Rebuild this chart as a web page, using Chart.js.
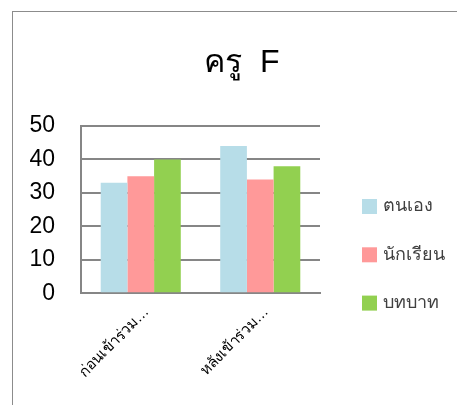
<!DOCTYPE html>
<html>
<head>
<meta charset="utf-8">
<script src="https://cdn.jsdelivr.net/npm/chart.js@4"></script>
<style>
  html, body { margin: 0; padding: 0; background: #fff; }
  #wrap { position: relative; width: 457px; height: 405px; overflow: hidden; }
  #frame { position: absolute; left: 12px; top: 11px; width: 500px; height: 460px; border: 1px solid #8c8c8c; box-sizing: border-box; }
  canvas { position: absolute; left: 0; top: 0; }
</style>
</head>
<body>
<div id="wrap">
  <div id="frame"></div>
  <canvas id="c" width="457" height="405"></canvas>
</div>
<script>
// Categories (x-axis) and the score of each group
const categories = ['ก่อนเข้าร่วม…', 'หลังเข้าร่วม…'];
const seriesNames = ['ตนเอง', 'นักเรียน', 'บทบาท'];
const selfScores = [33, 44];
const studentScores = [35, 34];
const roleScores = [40, 38];
const yTicks = [0, 10, 20, 30, 40, 50];
const chartTitle = 'ครู  F';

const colors = ['#B7DDE8', '#FF9999', '#92D050'];
const font = "'Liberation Sans', 'DejaVu Sans', sans-serif";

// Title across the whole canvas and a vertical legend on the right
const decorations = {
  id: 'decorations',
  afterDraw(chart) {
    const ctx = chart.ctx;
    ctx.save();
    ctx.font = '32px ' + font;
    ctx.fillStyle = '#000';
    ctx.textAlign = 'center';
    ctx.textBaseline = 'alphabetic';
    ctx.fillText(chartTitle, 242, 71.5);

    const box = 15, gap = 48.3, x = 362, cy0 = 206.5;
    ctx.font = '18px ' + font;
    ctx.textBaseline = 'middle';
    ctx.textAlign = 'left';
    chart.data.datasets.forEach((ds, i) => {
      const cy = cy0 + i * gap;
      ctx.fillStyle = ds.backgroundColor;
      ctx.fillRect(x, cy - box / 2, box, box);
      ctx.fillStyle = '#404040';
      ctx.fillText(ds.label, x + box + 6, cy);
    });
    ctx.restore();
  }
};

new Chart(document.getElementById('c'), {
  type: 'bar',
  data: {
    labels: categories,
    datasets: [selfScores, studentScores, roleScores].map((d, i) => ({
      label: seriesNames[i],
      data: d,
      backgroundColor: colors[i],
      borderWidth: 0,
      categoryPercentage: 0.67,
      barPercentage: 1.0
    }))
  },
  options: {
    responsive: false,
    animation: false,
    layout: { padding: { left: 2, right: 137, top: 126, bottom: 14 } },
    plugins: {
      title: { display: false },
      legend: { display: false },
      tooltip: { enabled: false }
    },
    scales: {
      x: {
        grid: { display: false, drawTicks: false },
        border: { display: true, color: '#868686', width: 2 },
        ticks: {
          color: '#000',
          font: { family: font, size: 15 },
          minRotation: 45,
          maxRotation: 45,
          padding: 10,
          labelOffset: 6
        }
      },
      y: {
        min: 0,
        max: 50,
        afterBuildTicks: axis => { axis.ticks = yTicks.map(v => ({ value: v })); },
        afterFit: axis => { axis.width = 79; },
        grid: { color: '#868686', lineWidth: 2, drawTicks: false },
        border: { display: true, color: '#868686', width: 2 },
        ticks: {
          color: '#000',
          font: { family: font, size: 23 },
          padding: 26
        }
      }
    }
  },
  plugins: [decorations]
});
</script>
</body>
</html>
